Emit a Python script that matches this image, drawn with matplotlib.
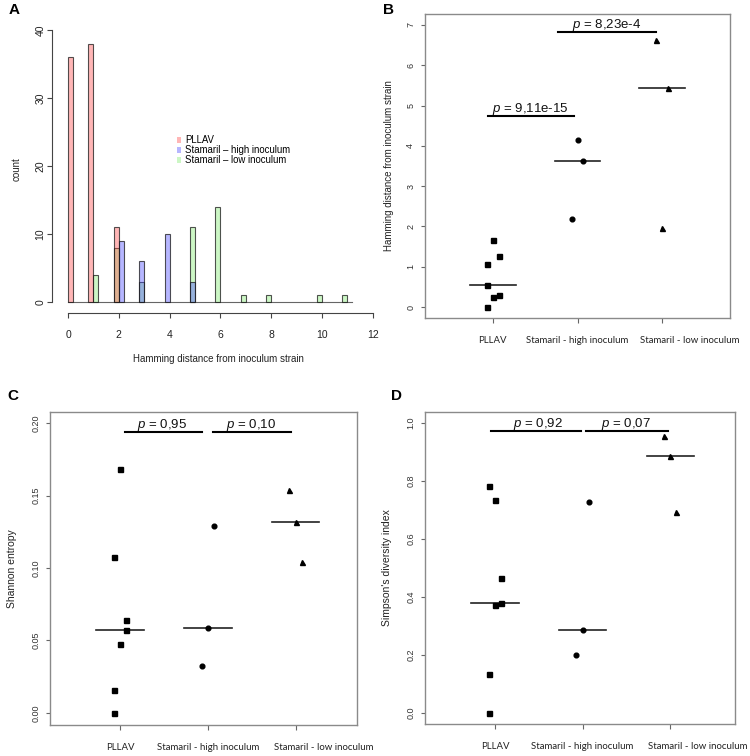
import numpy as np
import matplotlib
matplotlib.use("Agg")
import matplotlib.pyplot as plt
from matplotlib.patches import Patch
from matplotlib.transforms import ScaledTranslation

plt.rcParams['font.family'] = ['Liberation Sans', 'DejaVu Sans']
plt.rcParams['mathtext.fontset'] = 'custom'
plt.rcParams['mathtext.rm'] = 'Liberation Sans'
plt.rcParams['mathtext.it'] = 'Liberation Sans:italic'

# ---------------- DATA ----------------
# Panel A: histogram of Hamming distances
pllav_dist = [0, 1, 2]
pllav_count = [36, 38, 11]
high_dist = [2, 3, 4, 5]
high_count = [9, 6, 10, 3]
low_dist = [1, 2, 3, 5, 6, 7, 8, 10, 11]
low_count = [4, 8, 3, 11, 14, 1, 1, 1, 1]
hist_labels = ["PLLAV", "Stamaril \u2013 high inoculum", "Stamaril \u2013 low inoculum"]
a_xticks = [0, 2, 4, 6, 8, 10, 12]
a_yticks = [0, 10, 20, 30, 40]

groups = ["PLLAV", "Stamaril - high inoculum", "Stamaril - low inoculum"]

# Panel B: Hamming distance per sample
b_pllav = [0.00, 0.26, 0.30, 0.54, 1.07, 1.27, 1.67]
b_high = [2.19, 3.63, 4.15]
b_low = [1.95, 5.44, 6.62]
b_pvals = ["9,11e-15", "8,23e-4"]

# Panel C: Shannon entropy
c_pllav = [0.000, 0.0161, 0.0478, 0.057, 0.0639, 0.1076, 0.1685]
c_high = [0.0322, 0.0584, 0.129]
c_low = [0.1039, 0.1315, 0.1538]
c_pvals = ["0,95", "0,10"]

# Panel D: Simpson's diversity index
d_pllav = [0.000, 0.1325, 0.370, 0.377, 0.465, 0.733, 0.781]
d_high = [0.198, 0.2857, 0.727]
d_low = [0.6935, 0.886, 0.954]
d_pvals = ["0,92", "0,07"]

# ---------------- LAYOUT / STYLE ----------------
W, H = 750, 756
fig = plt.figure(figsize=(W / 100, H / 100), dpi=100)


def ax_px(left, top, right, bottom):
    return fig.add_axes([left / W, 1 - bottom / H, (right - left) / W, (bottom - top) / H])


# horizontal jitter of strip-chart points (per panel, per group, same order as values)
jit_b = [[-0.07, 0.0, 0.07, -0.07, -0.07, 0.07, 0.0], [-0.07, 0.07, 0.0], [0.0, 0.07, -0.07]]
jit_c = [[-0.07, -0.07, 0.0, 0.07, 0.07, -0.07, 0.0], [-0.07, 0.0, 0.07], [0.07, 0.0, -0.07]]
jit_d = [[-0.07, -0.07, 0.0, 0.07, 0.07, 0.0, -0.07], [-0.07, 0.0, 0.07], [0.07, 0.0, -0.07]]

# ---------------- PANEL A ----------------
axA = ax_px(52, 25, 385, 313)
cols = {
    "PLLAV": (1.0, 0.25, 0.25, 0.38),
    "high": (0.25, 0.25, 1.0, 0.38),
    "low": (0.35, 0.9, 0.25, 0.30),
}
edge = (0.1, 0.1, 0.1, 0.75)
right_side = {("low", 1), ("PLLAV", 0), ("high", 2)}
bw = 0.2
for key, dists, counts in [("low", low_dist, low_count),
                           ("PLLAV", pllav_dist, pllav_count),
                           ("high", high_dist, high_count)]:
    for d, c in zip(dists, counts):
        w = bw if (key, d) in right_side else -bw
        axA.bar(d, c, width=w, align='edge', color=cols[key], edgecolor=edge, linewidth=0.8, zorder=2)
axA.plot([0, 11.2], [0, 0], color='#666666', lw=0.8, zorder=1)
axA.set_xlim(-0.63, 12.48)
axA.set_ylim(-1.62, 40.74)
for s in ['top', 'right']:
    axA.spines[s].set_visible(False)
axA.spines['left'].set_bounds(0, 40)
axA.spines['bottom'].set_bounds(0, 12)
for s in ['left', 'bottom']:
    axA.spines[s].set_color('#444444')
    axA.spines[s].set_linewidth(0.8)
axA.set_xticks(a_xticks)
axA.set_yticks(a_yticks)
axA.set_yticklabels([str(v) for v in a_yticks], rotation=90, va='center')
axA.tick_params(axis='both', colors='#444444', labelcolor='#222222', labelsize=7.5, length=3.6, width=0.8)
axA.tick_params(axis='x', pad=9)
axA.tick_params(axis='y', pad=1)
axA.set_xlabel("Hamming distance from inoculum strain", fontsize=7, color='#222222', labelpad=10)
axA.set_ylabel("count", fontsize=7, color='#222222', labelpad=10)
handles = [Patch(facecolor=cols[k], edgecolor='none') for k in ["PLLAV", "high", "low"]]
axA.legend(handles, hist_labels, loc='upper left', bbox_to_anchor=(0.36, 0.633), frameon=False,
           fontsize=6.9, handlelength=0.45, handleheight=0.45, handletextpad=0.45,
           labelspacing=0.0, borderpad=0)

# ---------------- SCATTER PANELS ----------------
markers = ['s', 'o', '^']


def scatter_panel(ax, datasets, jit, ylim, yticks, yticklabels, xlim, ylabel, ylabsize, ylabpad,
                  plines, pvals, ptext_x, ptext_dy):
    for i, (vals, m) in enumerate(zip(datasets, markers)):
        x = i + 1
        ax.plot([x + j for j in jit[i]], vals, linestyle='none', marker=m, color='black',
                markersize=3.6 if m != 'o' else 3.4, zorder=3)
        med = np.median(vals)
        ax.plot([x - 0.27, x + 0.27], [med, med], color='#222222', lw=1.2, zorder=2)
    for (x0, x1, y), pv, tx in zip(plines, pvals, ptext_x):
        ax.plot([x0, x1], [y, y], color='black', lw=1.5, zorder=2)
        ax.text(tx, y + ptext_dy, r"$\it{p}$ = " + pv, ha='center', va='baseline',
                fontsize=9.5, color='#111111')
    ax.set_xlim(*xlim)
    ax.set_ylim(*ylim)
    ax.set_xticks([1, 2, 3])
    ax.set_xticklabels(groups, family=['Lato', 'DejaVu Sans'], fontsize=6.9, color='#222222')
    ax.set_yticks(yticks)
    ax.set_yticklabels(yticklabels, rotation=90, va='center', fontsize=6.5, color='#333333')
    for s in ax.spines.values():
        s.set_color('#8a8a8a')
        s.set_linewidth(1.0)
    ax.tick_params(axis='x', length=3.6, width=0.8, colors='#666666', pad=9.5, labelcolor='#222222')
    ax.tick_params(axis='y', length=3.0, width=0.8, colors='#666666', pad=4, labelcolor='#333333')
    ax.set_ylabel(ylabel, fontsize=ylabsize, color='#222222', labelpad=ylabpad)
    # the last category label sits to the right of its tick in the reference
    lab = ax.xaxis.get_major_ticks()[2].label1
    lab.set_transform(lab.get_transform() + ScaledTranslation(0.28, 0, fig.dpi_scale_trans))


axB = ax_px(425, 14, 730, 318)
b_yt = [0, 1, 2, 3, 4, 5, 6, 7]
scatter_panel(axB, [b_pllav, b_high, b_low], jit_b, (-0.27, 7.27), b_yt, [str(v) for v in b_yt],
              (0.2, 3.8), "Hamming distance from inoculum strain", 7.0, 8.5,
              [(0.94, 1.96, 4.73), (1.77, 2.93, 6.83)], b_pvals, [1.44, 2.34], 0.1)

axC = ax_px(50, 412, 357, 725)
c_yt = [0.0, 0.05, 0.10, 0.15, 0.20]
scatter_panel(axC, [c_pllav, c_high, c_low], jit_c, (-0.0083, 0.2076), c_yt, ["%.2f" % v for v in c_yt],
              (0.2, 3.7), "Shannon entropy", 7.5, 10.5,
              [(1.05, 1.93, 0.194), (2.06, 2.95, 0.194)], c_pvals, [1.48, 2.49], 0.0028)

axD = ax_px(425, 412, 735, 724)
d_yt = [0.0, 0.2, 0.4, 0.6, 0.8, 1.0]
scatter_panel(axD, [d_pllav, d_high, d_low], jit_d, (-0.039, 1.037), d_yt, ["%.1f" % v for v in d_yt],
              (0.2, 3.74), "Simpson's diversity index", 7.5, 10.5,
              [(0.95, 1.98, 0.971), (2.04, 2.98, 0.971)], d_pvals, [1.49, 2.5], 0.014)

# Panel letters
for lbl, x, y in [("A", 14, 10), ("B", 388, 10), ("C", 13, 396), ("D", 396, 396)]:
    fig.text(x / W, 1 - y / H, lbl, fontsize=11, fontweight='bold', ha='center', va='center')

fig.savefig("out.png", dpi=100)
